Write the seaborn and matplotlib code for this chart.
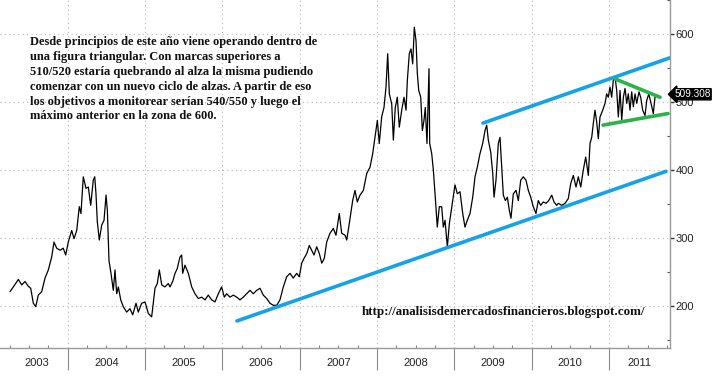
import matplotlib
matplotlib.use("Agg")
import matplotlib.pyplot as plt
import seaborn as sns
import pandas as pd
import numpy as np

# ---------------- data ----------------
dates = [
    2003.255, 2003.298, 2003.363, 2003.407, 2003.449, 2003.492, 2003.523, 2003.557, 2003.588, 2003.621,
    2003.665, 2003.708, 2003.751, 2003.794, 2003.824, 2003.859, 2003.902, 2003.944, 2003.975, 2004.009,
    2004.053, 2004.083, 2004.118, 2004.151, 2004.173, 2004.203, 2004.238, 2004.268, 2004.299, 2004.332,
    2004.351, 2004.367, 2004.384, 2004.410, 2004.441, 2004.471, 2004.497, 2004.514, 2004.535, 2004.561,
    2004.591, 2004.613, 2004.635, 2004.656, 2004.687, 2004.720, 2004.764, 2004.807, 2004.842, 2004.885,
    2004.914, 2004.958, 2005.001, 2005.044, 2005.087, 2005.130, 2005.160, 2005.186, 2005.217, 2005.259,
    2005.302, 2005.324, 2005.359, 2005.389, 2005.418, 2005.453, 2005.475, 2005.488, 2005.518, 2005.561,
    2005.605, 2005.647, 2005.690, 2005.734, 2005.777, 2005.819, 2005.863, 2005.906, 2005.949, 2005.992,
    2006.026, 2006.057, 2006.100, 2006.143, 2006.187, 2006.229, 2006.272, 2006.316, 2006.359, 2006.401,
    2006.445, 2006.488, 2006.530, 2006.574, 2006.617, 2006.660, 2006.704, 2006.746, 2006.789, 2006.833,
    2006.876, 2006.918, 2006.962, 2006.996, 2007.027, 2007.057, 2007.092, 2007.125, 2007.156, 2007.186,
    2007.221, 2007.255, 2007.286, 2007.319, 2007.350, 2007.393, 2007.436, 2007.470, 2007.513, 2007.544,
    2007.587, 2007.609, 2007.642, 2007.686, 2007.716, 2007.746, 2007.781, 2007.824, 2007.868, 2007.910,
    2007.945, 2007.975, 2008.005, 2008.030, 2008.061, 2008.091, 2008.117, 2008.139, 2008.160, 2008.191,
    2008.212, 2008.237, 2008.263, 2008.289, 2008.320, 2008.350, 2008.376, 2008.393, 2008.418, 2008.440,
    2008.462, 2008.483, 2008.505, 2008.522, 2008.540, 2008.566, 2008.587, 2008.608, 2008.625, 2008.647,
    2008.673, 2008.682, 2008.708, 2008.729, 2008.751, 2008.780, 2008.806, 2008.837, 2008.858, 2008.880,
    2008.910, 2008.936, 2008.979, 2009.009, 2009.039, 2009.074, 2009.109, 2009.138, 2009.168, 2009.203,
    2009.238, 2009.268, 2009.297, 2009.332, 2009.367, 2009.397, 2009.419, 2009.440, 2009.471, 2009.497,
    2009.514, 2009.539, 2009.569, 2009.591, 2009.613, 2009.634, 2009.660, 2009.686, 2009.711, 2009.733,
    2009.763, 2009.798, 2009.828, 2009.859, 2009.892, 2009.927, 2009.957, 2009.988, 2010.021, 2010.056,
    2010.086, 2010.117, 2010.151, 2010.186, 2010.221, 2010.260, 2010.289, 2010.324, 2010.345, 2010.389,
    2010.432, 2010.474, 2010.505, 2010.539, 2010.574, 2010.604, 2010.635, 2010.668, 2010.699, 2010.733,
    2010.755, 2010.777, 2010.797, 2010.819, 2010.841, 2010.862, 2010.884, 2010.919, 2010.949, 2010.970,
    2010.991, 2011.013, 2011.035, 2011.056, 2011.078, 2011.100, 2011.121, 2011.143, 2011.165, 2011.186,
    2011.208, 2011.229, 2011.250, 2011.272, 2011.294, 2011.315, 2011.337, 2011.359, 2011.388, 2011.410,
    2011.436, 2011.466, 2011.488, 2011.514, 2011.544, 2011.573, 2011.595, 2011.617,
]
values = [
    221, 228, 239, 231, 236, 229, 226, 204, 199, 216,
    221, 241, 253, 272, 294, 285, 282, 285, 275, 294,
    311, 299, 311, 346, 336, 390, 373, 375, 348, 385,
    390, 365, 324, 297, 319, 326, 363, 341, 267, 248,
    223, 253, 218, 228, 209, 199, 191, 196, 187, 204,
    191, 204, 206, 189, 184, 226, 233, 253, 231, 228,
    233, 228, 236, 248, 255, 272, 275, 248, 260, 248,
    228, 218, 211, 213, 209, 216, 209, 206, 218, 228,
    213, 218, 213, 216, 213, 209, 213, 218, 223, 218,
    223, 226, 216, 211, 204, 201, 201, 209, 228, 243,
    248, 241, 248, 243, 263, 270, 277, 289, 282, 275,
    287, 277, 263, 270, 294, 307, 314, 304, 336, 307,
    304, 297, 321, 355, 370, 353, 363, 370, 395, 404,
    424, 448, 473, 439, 478, 492, 522, 571, 512, 497,
    444, 492, 507, 463, 488, 507, 488, 532, 571, 578,
    556, 610, 590, 542, 517, 507, 458, 473, 492, 439,
    549, 439, 424, 400, 365, 316, 346, 346, 316, 326,
    287, 321, 355, 378, 365, 368, 336, 316, 326, 336,
    360, 390, 404, 424, 439, 458, 466, 444, 426, 395,
    360, 385, 439, 448, 404, 363, 355, 360, 341, 329,
    365, 370, 355, 385, 390, 385, 370, 360, 346, 336,
    355, 348, 353, 351, 355, 363, 353, 348, 351, 348,
    351, 358, 380, 392, 375, 390, 375, 400, 419, 392,
    439, 448, 468, 488, 471, 446, 478, 488, 498, 512,
    507, 522, 507, 532, 537, 517, 478, 517, 473, 507,
    520, 498, 512, 488, 515, 493, 512, 498, 515, 507,
    488, 480, 502, 512, 498, 483, 507, 509.308,
]
last_value = 509.308

year_bounds = [2004, 2005, 2006, 2007, 2008, 2009, 2010, 2011]
year_labels = ["2003", "2004", "2005", "2006", "2007", "2008", "2009", "2010", "2011"]
year_label_pos = [2003.6, 2004.5, 2005.5, 2006.5, 2007.5, 2008.5, 2009.5, 2010.5, 2011.4]
y_ticks = [200, 300, 400, 500, 600]
y_minor = [150, 250, 350, 450, 550, 650]

# trend lines (date, value) endpoints
channel_low_t, channel_low_v = [2006.190, 2011.737], [178, 398]
channel_high_t, channel_high_v = [2009.371, 2011.789], [469, 565]
tri_high_t, tri_high_v = [2011.078, 2011.660], [534, 507]
tri_low_t, tri_low_v = [2010.923, 2011.763], [466, 483]

note = ("Desde principios de este año viene operando dentro de\n"
        "una figura triangular. Con marcas superiores a\n"
        "510/520 estaría quebrando al alza la misma pudiendo\n"
        "comenzar con un nuevo ciclo de alzas. A partir de eso\n"
        "los objetivos a monitorear serían 540/550 y luego el\n"
        "máximo anterior en la zona de 600.")
url = "http://analisisdemercadosfinancieros.blogspot.com/"

# ---------------- plotting ----------------
sns.set_theme(style="white")
plt.rcParams["font.family"] = ["Liberation Sans", "DejaVu Sans"]

fig = plt.figure(figsize=(7.13, 3.78), dpi=100)
ax = fig.add_axes([0, 30 / 378, 670 / 713, 348 / 378])

df = pd.DataFrame({"date": dates, "value": values})
sns.lineplot(data=df, x="date", y="value", ax=ax, color="black", lw=0.9,
             estimator=None, sort=False)

blue = "#16a2e6"
green = "#2bb24c"
for t, v, c in [(channel_low_t, channel_low_v, blue),
                (channel_high_t, channel_high_v, blue),
                (tri_high_t, tri_high_v, green),
                (tri_low_t, tri_low_v, green)]:
    sns.lineplot(x=t, y=v, ax=ax, color=c, lw=2.6, estimator=None, sort=False)

ax.set_xlim(2003.126, 2011.789)
ax.set_ylim(138.2, 649.2)
ax.set_xlabel("")
ax.set_ylabel("")

# x axis: year separators (major) + year labels (minor)
ax.set_xticks(year_bounds)
ax.set_xticklabels([])
ax.set_xticks(year_label_pos, minor=True)
ax.set_xticklabels(year_labels, minor=True)
ax.tick_params(axis="x", which="major", direction="out", length=16, width=0.8,
               color="#8a8a8a", bottom=True)
ax.tick_params(axis="x", which="minor", length=0, pad=7, labelsize=8, labelcolor="#222222",
               bottom=True)

# quarter ticks above axis line
sec = ax.secondary_xaxis("bottom")
quarters = [q for q in np.arange(2003.25, 2011.8, 0.25) if abs(q - round(q)) > 1e-6]
sec.set_xticks(quarters)
sec.tick_params(direction="in", length=2.5, width=0.8, color="#8a8a8a", labelbottom=False)
sec.spines["bottom"].set_visible(False)

# y axis on the right
ax.yaxis.tick_right()
ax.set_yticks(y_ticks)
ax.set_yticklabels([str(v) for v in y_ticks])
ax.set_yticks(y_minor, minor=True)
ax.tick_params(axis="y", which="major", direction="out", length=3, width=1, color="#333333",
               labelsize=8, labelcolor="#222222", pad=1, right=True, left=False)
ax.tick_params(axis="y", which="minor", direction="in", length=2, width=0.8, color="#555555",
               right=True, left=False)

# dotted grid
ax.grid(True, which="major", axis="both", color="#b5b5b5", lw=0.8, linestyle=(0, (1, 3)))

for s in ["top", "left"]:
    ax.spines[s].set_visible(False)
for s in ["right", "bottom"]:
    ax.spines[s].set_color("#9a9a9a")
    ax.spines[s].set_linewidth(1)

# last value tag
ax.annotate(f"{last_value:.3f}", xy=(1.0, last_value), xycoords=("axes fraction", "data"),
            xytext=(3, 1), textcoords="offset points", ha="left", va="center",
            color="white", fontsize=7.2,
            bbox=dict(boxstyle="larrow,pad=0.06", fc="black", ec="black"),
            annotation_clip=False, zorder=10)

fig.text(30 / 713, 1 - 36 / 378, note, ha="left", va="top", fontsize=9, fontweight="bold",
         family="Liberation Serif", linespacing=1.32, color="#111111")
fig.text(362 / 713, 1 - 312 / 378, url, ha="left", va="center", fontsize=9.4, fontweight="bold",
         family="Liberation Serif", color="#111111")

fig.savefig("out.png", dpi=100)
